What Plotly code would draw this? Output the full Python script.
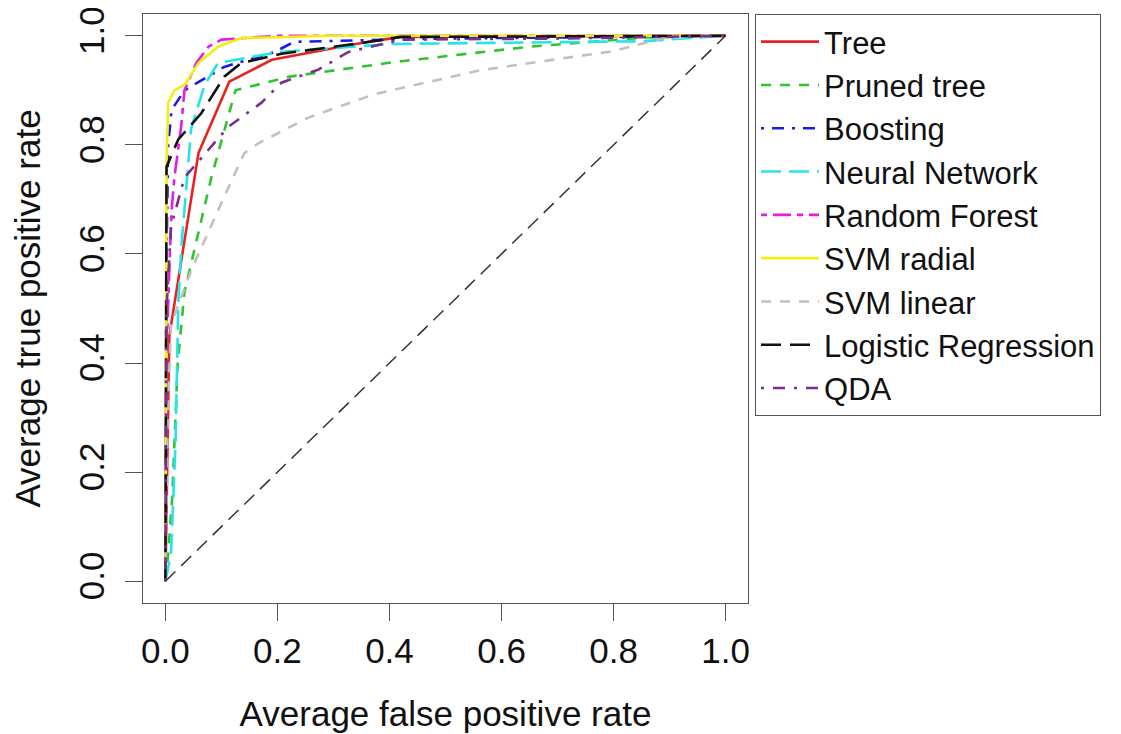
import plotly.graph_objects as go

# ---- data ----
names = ["Tree", "Pruned tree", "Boosting", "Neural Network", "Random Forest",
         "SVM radial", "SVM linear", "Logistic Regression", "QDA"]

tree_fpr = [0, 0.003, 0.007, 0.059, 0.114, 0.19, 0.34, 0.42, 1.0]
tree_tpr = [0, 0.20, 0.45, 0.785, 0.916, 0.956, 0.985, 0.998, 1.0]

pruned_fpr = [0, 0.005, 0.012, 0.022, 0.034, 0.082, 0.125, 0.22, 0.41, 0.65, 0.86, 1.0]
pruned_tpr = [0, 0.05, 0.15, 0.40, 0.53, 0.74, 0.90, 0.925, 0.952, 0.98, 0.997, 1.0]

boost_fpr = [0, 0.002, 0.005, 0.011, 0.034, 0.105, 0.194, 0.23, 0.5, 1.0]
boost_tpr = [0, 0.60, 0.80, 0.864, 0.90, 0.943, 0.97, 0.989, 0.995, 1.0]

nn_fpr = [0, 0.01, 0.018, 0.023, 0.029, 0.046, 0.07, 0.094, 0.2, 0.4, 0.85, 1.0]
nn_tpr = [0, 0.05, 0.25, 0.51, 0.62, 0.83, 0.91, 0.95, 0.97, 0.985, 0.99, 1.0]

rf_fpr = [0, 0.003, 0.008, 0.011, 0.016, 0.028, 0.034, 0.055, 0.077, 0.10, 0.2, 1.0]
rf_tpr = [0, 0.45, 0.60, 0.68, 0.74, 0.833, 0.90, 0.95, 0.98, 0.993, 1.0, 1.0]

svmr_fpr = [0, 0.001, 0.002, 0.005, 0.016, 0.034, 0.059, 0.094, 0.135, 0.3, 1.0]
svmr_tpr = [0, 0.50, 0.767, 0.877, 0.90, 0.91, 0.95, 0.98, 0.996, 1.0, 1.0]

svml_fpr = [0, 0.004, 0.01, 0.046, 0.105, 0.141, 0.166, 0.255, 0.373, 0.563, 0.8, 0.89, 1.0]
svml_tpr = [0, 0.30, 0.47, 0.57, 0.705, 0.785, 0.803, 0.85, 0.893, 0.937, 0.972, 0.996, 1.0]

logit_fpr = [0, 0.002, 0.023, 0.064, 0.105, 0.135, 0.207, 0.337, 0.42, 1.0]
logit_tpr = [0, 0.76, 0.81, 0.858, 0.925, 0.95, 0.967, 0.985, 0.998, 1.0]

qda_fpr = [0, 0.002, 0.01, 0.034, 0.112, 0.171, 0.207, 0.273, 0.326, 0.42, 0.7, 1.0]
qda_tpr = [0, 0.50, 0.65, 0.74, 0.833, 0.877, 0.914, 0.938, 0.97, 0.993, 0.995, 1.0]

diag_x = [0, 1]
diag_y = [0, 1]

tick_vals = [0.0, 0.2, 0.4, 0.6, 0.8, 1.0]
tick_text = ["0.0", "0.2", "0.4", "0.6", "0.8", "1.0"]

series = [
    (tree_fpr, tree_tpr, "#e8231f", "solid", 2.6),
    (pruned_fpr, pruned_tpr, "#2ec42e", "10px,9px", 2.6),
    (boost_fpr, boost_tpr, "#1a1ae6", "3px,8px,12px,8px", 2.6),
    (nn_fpr, nn_tpr, "#26e3ea", "20px,8px", 2.6),
    (rf_fpr, rf_tpr, "#e21ee2", "6px,6px,18px,6px", 2.6),
    (svmr_fpr, svmr_tpr, "#f4ee10", "solid", 2.6),
    (svml_fpr, svml_tpr, "#c0c0c0", "10px,9px", 2.6),
    (logit_fpr, logit_tpr, "#111111", "20px,9px", 2.6),
    (qda_fpr, qda_tpr, "#7a2e8e", "3px,9px,12px,9px", 2.6),
]

FONT = "Liberation Sans, Arial, sans-serif"

fig = go.Figure()
fig.add_trace(go.Scatter(x=diag_x, y=diag_y, mode="lines", showlegend=False,
                         line=dict(color="#333333", width=1.5, dash="14px,8px"),
                         hoverinfo="skip"))
for (x, y, c, d, w), n in zip(series, names):
    fig.add_trace(go.Scatter(x=x, y=y, mode="lines", name=n,
                             line=dict(color=c, width=w, dash=d)))

axis_common = dict(
    showgrid=False, zeroline=False, showline=True, linecolor="#555555", linewidth=1,
    mirror=True, ticks="outside", ticklen=17, tickwidth=1, tickcolor="#555555",
    tickvals=tick_vals, ticktext=tick_text, automargin=False,
    ticklabeloverflow="allow",
    tickfont=dict(family=FONT, size=35, color="#111111"),
)

# page body has an 8px margin, so the figure is 8px smaller than the window
fig.update_layout(
    width=1113, height=726,
    margin=dict(l=135, r=373, t=6, b=131, autoexpand=False),
    paper_bgcolor="white", plot_bgcolor="white",
    font=dict(family=FONT, color="#111111"),
    xaxis=dict(range=[-0.04, 1.04], ticklabelstandoff=0, **axis_common,
               title=dict(text="Average false positive rate",
                          font=dict(family=FONT, size=35), standoff=32)),
    yaxis=dict(range=[-0.04, 1.04], tickangle=-90, ticklabelstandoff=7, **axis_common,
               title=dict(text="Average true positive rate",
                          font=dict(family=FONT, size=35), standoff=22)),
    legend=dict(x=1.0116, y=1.0, xanchor="left", yanchor="top",
                bordercolor="#555555", borderwidth=1, bgcolor="white",
                font=dict(family=FONT, size=31, color="#111111"),
                tracegroupgap=0, itemwidth=58),
    showlegend=True,
)

fig.write_html("out.html")
